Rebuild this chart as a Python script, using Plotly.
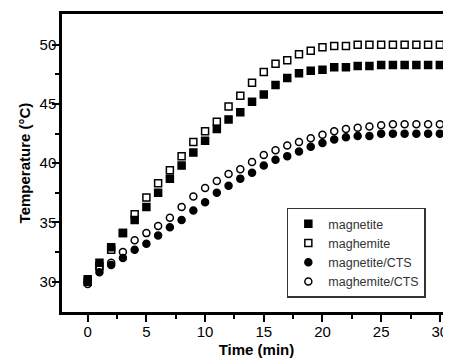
import plotly.graph_objects as go

time_min = list(range(0, 31))
magnetite = [30.2, 31.6, 32.9, 34.1, 35.2, 36.3, 37.5, 38.7, 39.8, 40.9, 41.9, 42.9, 43.7, 44.3, 45.2, 45.8,
             46.6, 47.2, 47.6, 47.8, 47.9, 48.1, 48.1, 48.2, 48.2, 48.3, 48.3, 48.3, 48.3, 48.3, 48.3]
maghemite = [30.0, 31.3, 32.7, 34.1, 35.7, 37.1, 38.3, 39.4, 40.6, 41.8, 42.7, 43.5, 44.8, 45.7, 46.8, 47.7,
             48.4, 48.7, 49.2, 49.5, 49.8, 49.9, 49.9, 50.0, 50.0, 50.0, 50.0, 50.0, 50.0, 50.0, 50.0]
magnetite_cts = [30.0, 30.8, 31.4, 32.0, 32.7, 33.2, 33.9, 34.6, 35.2, 36.0, 36.7, 37.5, 38.1, 38.7, 39.2, 39.8,
                 40.3, 40.6, 41.0, 41.4, 41.7, 42.0, 42.2, 42.3, 42.3, 42.5, 42.5, 42.5, 42.5, 42.5, 42.5]
maghemite_cts = [29.8, 31.1, 31.6, 32.5, 33.5, 34.1, 34.7, 35.4, 36.3, 37.2, 37.9, 38.5, 39.1, 39.5, 40.1, 40.7,
                 41.1, 41.5, 41.8, 42.1, 42.4, 42.7, 42.9, 43.0, 43.1, 43.2, 43.3, 43.3, 43.3, 43.3, 43.3]

series = [
    ("magnetite", magnetite, "square", 7),
    ("maghemite", maghemite, "square-open", 7),
    ("magnetite/CTS", magnetite_cts, "circle", 7),
    ("maghemite/CTS", maghemite_cts, "circle-open", 7),
]

fig = go.Figure()
for name, vals, sym, size in series:
    fig.add_trace(go.Scatter(
        x=time_min, y=vals, mode="markers", name=name,
        marker=dict(symbol=sym, size=size, color="black", line=dict(color="black", width=1.5)),
    ))

# page body has an 8px default margin: figure is sized to fill the rest of the window
fig.update_layout(
    width=443, height=350,
    margin=dict(l=54, r=0, t=6, b=46),
    paper_bgcolor="white", plot_bgcolor="white",
    font=dict(family="Liberation Sans, Arial", color="black"),
    showlegend=True,
    legend=dict(
        x=0.578, y=0.35, xanchor="left", yanchor="top",
        bordercolor="#333333", borderwidth=1.5, bgcolor="white",
        font=dict(size=12.5, color="#333333"),
        tracegroupgap=0, itemsizing="trace",
    ),
)
fig.update_xaxes(
    range=[-2.19, 30.95], showgrid=False, zeroline=False, automargin="bottom",
    showline=True, linecolor="black", linewidth=2.5, mirror=True,
    ticks="outside", ticklen=7, tickwidth=2, tickcolor="black",
    tickvals=[0, 5, 10, 15, 20, 25, 30], ticklabelstandoff=-3,
    minor=dict(tickvals=[2.5, 7.5, 12.5, 17.5, 22.5, 27.5], ticks="outside", ticklen=4, tickwidth=2, tickcolor="black"),
    tickfont=dict(size=15),
    title=dict(text="<b>Time (min)</b>", font=dict(size=15), standoff=8),
)
fig.update_yaxes(
    range=[27.44, 52.6], showgrid=False, zeroline=False, automargin="left",
    showline=True, linecolor="black", linewidth=2.5, mirror=False,
    ticks="outside", ticklen=7, tickwidth=2, tickcolor="black",
    tickvals=[30, 35, 40, 45, 50], ticklabelstandoff=-7,
    minor=dict(tickvals=[32.5, 37.5, 42.5, 47.5], ticks="outside", ticklen=4, tickwidth=2, tickcolor="black"),
    tickfont=dict(size=15),
    title=dict(text="<b>Temperature (°C)</b>", font=dict(size=15), standoff=6),
)

fig.write_html("out.html")
